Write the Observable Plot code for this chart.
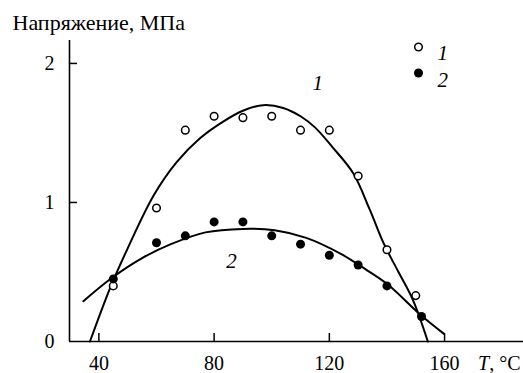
<!DOCTYPE html>
<html><head><meta charset="utf-8">
<script src="https://cdn.jsdelivr.net/npm/d3@7"></script>
<script src="https://cdn.jsdelivr.net/npm/@observablehq/plot@0.6"></script>
<style>body{margin:0;background:#fff}</style>
</head><body><div id="chart"></div>
<script>
// Series 1 (open circles)
const s1T = [45, 60, 70, 80, 90, 100, 110, 120, 130, 140, 150];
const s1V = [0.40, 0.96, 1.52, 1.62, 1.61, 1.62, 1.52, 1.52, 1.19, 0.66, 0.33];
// Series 2 (filled circles)
const s2T = [45, 60, 70, 80, 90, 100, 110, 120, 130, 140, 152];
const s2V = [0.45, 0.71, 0.76, 0.86, 0.86, 0.76, 0.70, 0.62, 0.55, 0.40, 0.18];
// Fitted curve 1
const c1T = [36.9, 44, 50, 59, 67, 75, 83, 90, 97, 104, 110, 115, 121, 128.3, 134, 139, 144, 149, 154.2];
const c1V = [0, 0.39, 0.67, 1.05, 1.29, 1.46, 1.58, 1.66, 1.70, 1.68, 1.62, 1.54, 1.40, 1.21, 0.95, 0.70, 0.50, 0.30, 0];
// Fitted curve 2
const c2T = [34.6, 44, 55, 65, 77, 90, 101, 112, 124, 131, 140, 151.7, 159.8];
const c2V = [0.29, 0.45, 0.60, 0.70, 0.785, 0.81, 0.80, 0.745, 0.63, 0.54, 0.415, 0.19, 0.055];
// Axes
const xTicks = [40, 80, 120, 160];
const yTicks = [0, 1, 2];
const xDomain = [29.8, 187.4];
const yDomain = [0, 2.165];
// Texts
const title = "Напряжение, МПа";
const xLabel = "T, °C";
const legendLabels = ["1", "2"];
const curveLabels = ["1", "2"];
const curveLabelT = [116, 86];
const curveLabelV = [1.855, 0.58];

const pts1 = s1T.map((t, i) => ({t, v: s1V[i]}));
const pts2 = s2T.map((t, i) => ({t, v: s2V[i]}));
const line1 = c1T.map((t, i) => ({t, v: c1V[i]}));
const line2 = c2T.map((t, i) => ({t, v: c2V[i]}));
const curveLbl = curveLabels.map((s, i) => ({s, t: curveLabelT[i], v: curveLabelV[i]}));

const chart = Plot.plot({
  width: 523,
  height: 373,
  marginLeft: 69,
  marginRight: 0,
  marginTop: 40,
  marginBottom: 32,
  style: {fontFamily: "Liberation Serif", fontSize: "20px"},
  x: {domain: xDomain, axis: null},
  y: {domain: yDomain, axis: null},
  marks: [
    Plot.line(line1, {x: "t", y: "v", curve: "catmull-rom", stroke: "#000", strokeWidth: 2}),
    Plot.line(line2, {x: "t", y: "v", curve: "catmull-rom", stroke: "#000", strokeWidth: 2}),
    Plot.ruleY([yDomain[0]], {stroke: "#000", strokeWidth: 1.6}),
    Plot.ruleX([xDomain[0]], {stroke: "#000", strokeWidth: 1.6}),
    Plot.tickX(xTicks, {x: d => d, insetTop: 293, stroke: "#000", strokeWidth: 1.5}),
    Plot.tickY(yTicks.filter(d => d > 0), {y: d => d, insetRight: 446, stroke: "#000", strokeWidth: 1.5}),
    Plot.text(xTicks, {x: d => d, text: d => String(d), frameAnchor: "bottom", lineAnchor: "top", dy: 14, fontSize: 20, fontFamily: "Liberation Serif"}),
    Plot.text(yTicks, {y: d => d, text: d => String(d), frameAnchor: "left", textAnchor: "end", dx: -15, fontSize: 20, fontFamily: "Liberation Serif"}),
    Plot.dot(pts1, {x: "t", y: "v", r: 3.8, stroke: "#000", strokeWidth: 1.5, fill: "#fff"}),
    Plot.dot(pts2, {x: "t", y: "v", r: 4.5, fill: "#000", stroke: "none"}),
    Plot.text(curveLbl, {x: "t", y: "v", text: "s", fontStyle: "italic", fontSize: 21, fontFamily: "Liberation Serif"}),
    // legend
    Plot.dot([legendLabels[0]], {frameAnchor: "top-right", dx: -105, dy: 6.5, r: 3.8, stroke: "#000", strokeWidth: 1.5, fill: "#fff"}),
    Plot.dot([legendLabels[1]], {frameAnchor: "top-right", dx: -105, dy: 32.5, r: 4.5, fill: "#000"}),
    Plot.text([legendLabels[0]], {frameAnchor: "top-right", dx: -86, dy: 4.5, text: d => d, textAnchor: "start", fontStyle: "italic", fontSize: 21, fontFamily: "Liberation Serif"}),
    Plot.text([legendLabels[1]], {frameAnchor: "top-right", dx: -86, dy: 31.5, text: d => d, textAnchor: "start", fontStyle: "italic", fontSize: 21, fontFamily: "Liberation Serif"}),
    // title
    Plot.text([title], {frameAnchor: "top-left", dx: -57, dy: -26, text: d => d, textAnchor: "start", lineAnchor: "top", fontSize: 22, fontFamily: "Liberation Serif"}),
    // x label
    Plot.text([xLabel], {frameAnchor: "bottom-right", dx: -3, dy: 14, text: d => d, textAnchor: "end", lineAnchor: "top", fontSize: 20, fontFamily: "Liberation Serif"})
  ]
});
d3.select(chart).selectAll("text").filter(function() { return this.textContent === xLabel; })
  .each(function() {
    const el = d3.select(this);
    el.text(null);
    el.append("tspan").attr("font-style", "italic").text("T");
    el.append("tspan").text(", °C");
  });
document.getElementById("chart").appendChild(chart);
</script>
</body></html>
